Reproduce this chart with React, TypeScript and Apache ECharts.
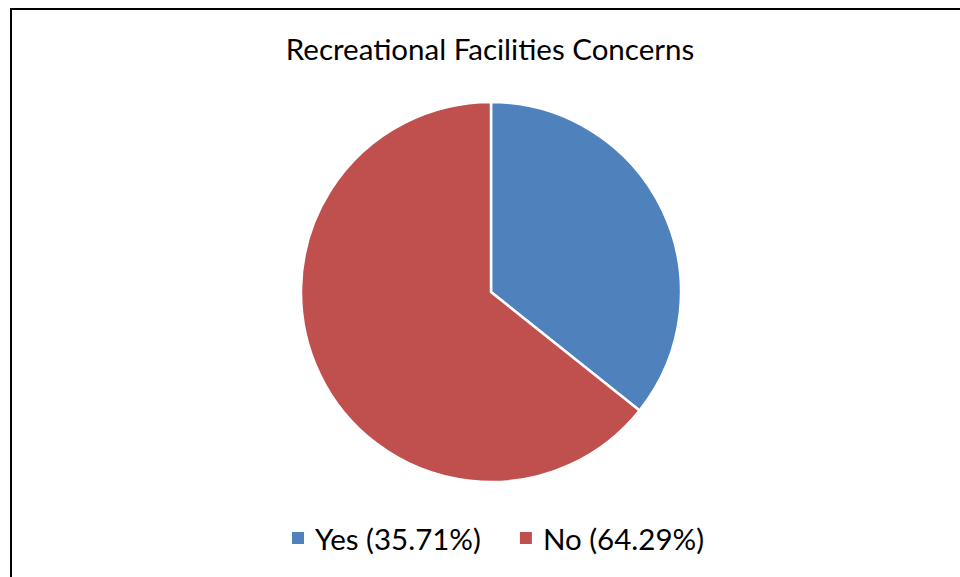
import React, { useEffect, useRef } from "react";
import * as echarts from "echarts";

const categories = ["Yes", "No"];
const values = [35.71, 64.29];
const colors = ["#4F81BD", "#C0504D"];
const titleText = "Recreational Facilities Concerns";

export default function App() {
  const ref = useRef<HTMLDivElement>(null);
  useEffect(() => {
    if (!ref.current) return;
    const chart = echarts.init(ref.current, undefined, { renderer: "svg" });
    chart.setOption({
      animation: false,
      backgroundColor: "#ffffff",
      title: {
        text: titleText,
        left: 485,
        textAlign: "center",
        top: 28,
        textStyle: { fontFamily: "Lato", fontSize: 29.5, fontWeight: "normal", color: "#000" },
      },
      legend: {
        data: categories,
        top: 518,
        left: 287,
        icon: "rect",
        itemWidth: 12,
        itemHeight: 12,
        itemGap: 39,
        itemStyle: { borderWidth: 0 },
        formatter: (name: string) => {
          const i = categories.indexOf(name);
          return `${name} (${values[i].toFixed(2)}%)`;
        },
        textStyle: { fontFamily: "Lato", fontSize: 29.5, color: "#000", padding: [0, 0, 0, 6] },
      },
      graphic: [
        { type: "line", shape: { x1: 10, y1: 9, x2: 960, y2: 9 }, style: { stroke: "#000", lineWidth: 2 } },
        { type: "line", shape: { x1: 11, y1: 8, x2: 11, y2: 577 }, style: { stroke: "#000", lineWidth: 2 } },
      ],
      series: [
        {
          type: "pie",
          center: [491, 292],
          radius: 190,
          startAngle: 90,
          clockwise: true,
          label: { show: false },
          labelLine: { show: false },
          itemStyle: { borderColor: "#fff", borderWidth: 2.5 },
          data: categories.map((c, i) => ({ name: c, value: values[i], itemStyle: { color: colors[i] } })),
        },
      ],
    });
    return () => chart.dispose();
  }, []);
  return <div ref={ref} style={{ position: "absolute", left: 0, top: 0, width: 960, height: 577 }} />;
}
